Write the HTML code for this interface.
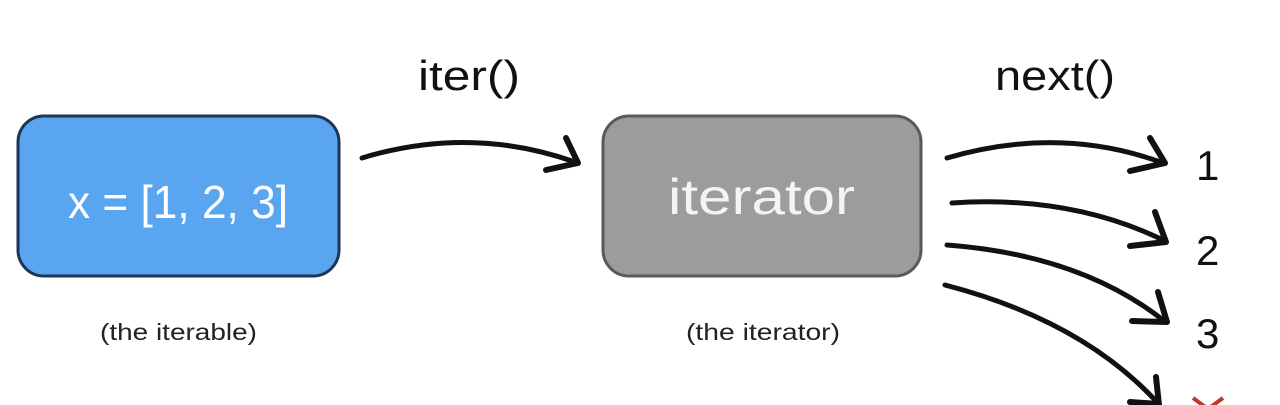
<!DOCTYPE html>
<html><head><style>html,body{margin:0;padding:0;background:#fff;}svg{display:block}</style></head>
<body>
<svg width="1280" height="405" viewBox="0 0 1280 405" xmlns="http://www.w3.org/2000/svg" font-family="Liberation Sans, sans-serif">
<rect x="18" y="116" width="321" height="160" rx="26" fill="#5aa5f0" stroke="#1d3557" stroke-width="3"/>
<rect x="603" y="116" width="318" height="160" rx="26" fill="#9c9c9c" stroke="#5a5a5a" stroke-width="3"/>
<text x="68" y="218" font-size="46" fill="#fff" textLength="220" lengthAdjust="spacingAndGlyphs">x = [1, 2, 3]</text>
<text x="668" y="214" font-size="50" fill="#f4f4f4" textLength="187" lengthAdjust="spacingAndGlyphs">iterator</text>
<text x="100" y="340" font-size="23" fill="#222" textLength="157" lengthAdjust="spacingAndGlyphs">(the iterable)</text>
<text x="686" y="340" font-size="23" fill="#222" textLength="154" lengthAdjust="spacingAndGlyphs">(the iterator)</text>
<text x="418" y="90" font-size="42" fill="#111" textLength="102" lengthAdjust="spacingAndGlyphs">iter()</text>
<text x="995" y="90" font-size="42" fill="#111" textLength="120" lengthAdjust="spacingAndGlyphs">next()</text>
<text x="1196" y="180" font-size="42" fill="#111">1</text>
<text x="1196" y="265" font-size="42" fill="#111">2</text>
<text x="1196" y="348" font-size="42" fill="#111">3</text>
<path d="M1193 398 L1223 420 M1223 398 L1193 420" stroke="#c0392b" stroke-width="4" fill="none"/>
<g fill="none" stroke="#111" stroke-linecap="round" stroke-linejoin="round">
<path d="M362 158 Q470 125 575 162" stroke-width="5"/>
<path d="M566 138 L578 163 L546 170" stroke-width="6"/>
<path d="M947 158 Q1060 125 1163 163" stroke-width="5"/>
<path d="M1150 138 L1165 163 L1130 171" stroke-width="6"/>
<path d="M952 203 Q1070 195 1163 240" stroke-width="5"/>
<path d="M1155 212 L1166 242 L1130 246" stroke-width="6"/>
<path d="M947 245 Q1080 255 1163 320" stroke-width="5"/>
<path d="M1158 292 L1167 322 L1132 321" stroke-width="6"/>
<path d="M945 285 Q1080 320 1155 400" stroke-width="5"/>
<path d="M1156 377 L1159 405 M1130 402 L1158 404" stroke-width="6"/>
</g>
</svg>
</body></html>
